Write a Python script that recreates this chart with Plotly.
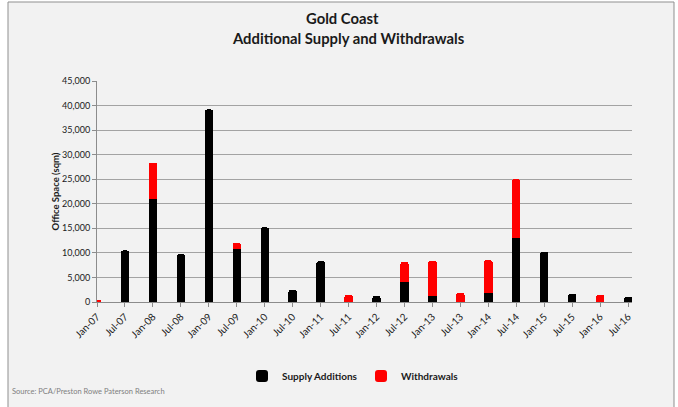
import plotly.graph_objects as go

# Half-yearly periods on the category axis
periods = ["Jan-07", "Jul-07", "Jan-08", "Jul-08", "Jan-09", "Jul-09", "Jan-10",
           "Jul-10", "Jan-11", "Jul-11", "Jan-12", "Jul-12", "Jan-13", "Jul-13",
           "Jan-14", "Jul-14", "Jan-15", "Jul-15", "Jan-16", "Jul-16"]

# Office space (sqm)
supply_additions = [0, 10500, 21000, 9700, 39200, 10800, 15200, 2500, 8300, 0,
                    1200, 4000, 1300, 0, 1800, 13100, 10200, 1600, 0, 1000]
withdrawals = [400, 0, 7400, 0, 0, 1200, 0, 0, 0, 1400,
               0, 4100, 7100, 1800, 6700, 11900, 0, 0, 1400, 0]

y_ticks = list(range(0, 45001, 5000))

FONT = "Lato"
TXT = "#1a1a1a"
W, H = 678, 407
ML, MR, MT, MB = 97, 46, 81, 105
PW, PH = W - ML - MR, H - MT - MB


def px_x(x):
    return (x - ML) / PW


def px_y(y):
    return (H - MB - y) / PH


fig = go.Figure()
fig.add_trace(go.Bar(x=periods, y=supply_additions, name="Supply Additions",
                     marker=dict(color="#000000", line=dict(width=0)), width=0.3))
fig.add_trace(go.Bar(x=periods, y=withdrawals, name="Withdrawals",
                     marker=dict(color="#ff0000", line=dict(width=0)), width=0.3))

fig.update_layout(
    width=W, height=H,
    margin=dict(l=ML, r=MR, t=MT, b=MB),
    barmode="stack",
    barcornerradius=2,
    paper_bgcolor="#ffffff",
    plot_bgcolor="rgba(0,0,0,0)",
    font=dict(family=FONT, color=TXT, size=9),
    showlegend=True,
    legend=dict(orientation="h", traceorder="normal",
                x=px_x(242), y=px_y(376), xanchor="left", yanchor="middle",
                font=dict(size=10, family=FONT, color=TXT, weight="bold"),
                itemwidth=30, entrywidth=74, bgcolor="rgba(0,0,0,0)"),
    xaxis=dict(type="category", range=[0, 19.14], tickangle=-45,
               showgrid=False, showline=True, linecolor="#8c8c8c", linewidth=1,
               ticks="outside", ticklen=4, tickcolor="#8c8c8c",
               tickfont=dict(size=10, family=FONT, color=TXT), fixedrange=True),
    yaxis=dict(range=[0, 45000], tickvals=y_ticks, tickformat=",",
               showgrid=True, gridcolor="#a3a3a3", gridwidth=1,
               showline=True, linecolor="#8c8c8c", linewidth=1, zeroline=False,
               ticks="outside", ticklen=4, tickcolor="#8c8c8c",
               tickfont=dict(size=9, family=FONT, color=TXT),
               title=dict(text="Office Space (sqm)", standoff=0,
                          font=dict(size=9.5, family=FONT, color=TXT, weight="bold"))),
    shapes=[dict(type="rect", xref="paper", yref="paper",
                 x0=px_x(8), x1=px_x(674), y0=px_y(440), y1=px_y(2),
                 fillcolor="#f2f2f2", line=dict(color="#8f8f8f", width=1),
                 layer="below")],
    annotations=[
        dict(text="<b>Gold Coast</b>", xref="paper", yref="paper",
             x=px_x(342), y=px_y(18), yanchor="middle", showarrow=False,
             font=dict(size=14.8, family=FONT, color=TXT)),
        dict(text="<b>Additional Supply and Withdrawals</b>", xref="paper", yref="paper",
             x=px_x(348), y=px_y(38), yanchor="middle", showarrow=False,
             font=dict(size=14.8, family=FONT, color=TXT)),
        dict(text="Source: PCA/Preston Rowe Paterson Research", xref="paper", yref="paper",
             x=px_x(10), y=px_y(391), xanchor="left", yanchor="middle", showarrow=False,
             font=dict(size=7.5, family=FONT, color="#808080")),
    ],
)

fig.write_html("out.html")
